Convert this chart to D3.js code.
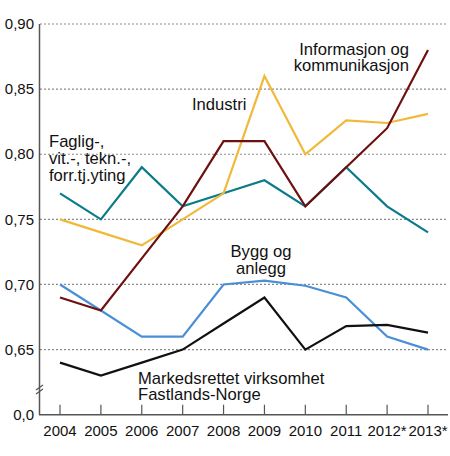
<!DOCTYPE html>
<html>
<head>
<meta charset="utf-8">
<script src="https://cdn.jsdelivr.net/npm/d3@7"></script>
<style>
  body { margin: 0; background: #fff; }
  text { font-family: "Liberation Sans", Arial, sans-serif; font-size: 15px; fill: #111; }
  text.serieslabel { font-size: 16.6px; }
</style>
</head>
<body>
<div id="chart"></div>
<script>
// Years on the x axis
const years = ["2004", "2005", "2006", "2007", "2008", "2009", "2010", "2011", "2012*", "2013*"];

// Series values
const markedsrettet = [0.64, 0.63, 0.64, 0.65, 0.67, 0.69, 0.65, 0.668, 0.669, 0.663];
const bygg = [0.70, 0.68, 0.66, 0.66, 0.70, 0.703, 0.699, 0.69, 0.66, 0.65];
const faglig = [0.77, 0.75, 0.79, 0.76, 0.77, 0.78, 0.76, 0.79, 0.76, 0.74];
const industri = [0.75, 0.74, 0.73, 0.75, 0.77, 0.86, 0.80, 0.826, 0.824, 0.831];
const informasjon = [0.69, 0.68, 0.72, 0.76, 0.81, 0.81, 0.76, 0.79, 0.82, 0.88];

// Y tick values and labels
const yTicks = [0.65, 0.70, 0.75, 0.80, 0.85, 0.90];
const yTickLabels = ["0,65", "0,70", "0,75", "0,80", "0,85", "0,90"];

const series = [
  { name: "faglig", values: faglig, color: "#0b7a8a" },
  { name: "industri", values: industri, color: "#f0b93a" },
  { name: "bygg", values: bygg, color: "#4a8fd6" },
  { name: "markedsrettet", values: markedsrettet, color: "#111111" },
  { name: "informasjon", values: informasjon, color: "#6e1010" }
];

const width = 450, height = 456;

const svg = d3.select("#chart")
  .append("svg")
    .attr("width", width)
    .attr("height", height);

// Scales - bottom of the axis is a broken 0,0
const x = d3.scalePoint()
  .domain(years)
  .range([60, 428]);

const y = d3.scaleLinear()
  .domain([0.60, 0.90])
  .range([414.7, 24]);

// Dotted gridlines
svg.selectAll(".grid")
  .data(yTicks)
  .join("line")
  .attr("x1", 40)
  .attr("x2", 448)
  .attr("y1", d => y(d))
  .attr("y2", d => y(d))
  .attr("stroke", "#8a8a8a")
  .attr("stroke-width", 1.2)
  .attr("stroke-dasharray", "2,2");

// Y tick labels
svg.selectAll(".ylab")
  .data(yTicks)
  .join("text")
  .attr("x", 34)
  .attr("y", d => y(d))
  .attr("dy", "0.35em")
  .attr("text-anchor", "end")
  .text((d, i) => yTickLabels[i]);

svg.append("text")
  .attr("x", 34)
  .attr("y", y(0.60))
  .attr("dy", "0.35em")
  .attr("text-anchor", "end")
  .text("0,0");

// Axes lines
svg.append("line")
  .attr("x1", 39.5).attr("x2", 39.5)
  .attr("y1", y(0.90)).attr("y2", y(0.60))
  .attr("stroke", "#555").attr("stroke-width", 1.5);

svg.append("line")
  .attr("x1", 39).attr("x2", 448)
  .attr("y1", y(0.60)).attr("y2", y(0.60))
  .attr("stroke", "#555").attr("stroke-width", 1.5);

// Axis break marks
[0, 4].forEach(off => {
  svg.append("line")
    .attr("x1", 36).attr("x2", 43)
    .attr("y1", 392 - off + 2).attr("y2", 387 - off + 2)
    .attr("stroke", "#555").attr("stroke-width", 1.2);
});

// X ticks
svg.selectAll(".xtick")
  .data(years)
  .join("line")
  .attr("x1", d => x(d))
  .attr("x2", d => x(d))
  .attr("y1", y(0.60))
  .attr("y2", y(0.60) - 10)
  .attr("stroke", "#555")
  .attr("stroke-width", 1.2);

svg.selectAll(".xlab")
  .data(years)
  .join("text")
  .attr("x", d => x(d))
  .attr("y", 436)
  .attr("text-anchor", "middle")
  .text(d => d);

// Lines
const line = d3.line()
  .x((d, i) => x(years[i]))
  .y(d => y(d));

svg.selectAll(".series")
  .data(series)
  .join("path")
  .attr("fill", "none")
  .attr("stroke", d => d.color)
  .attr("stroke-width", 2.2)
  .attr("stroke-linejoin", "miter")
  .attr("d", d => line(d.values));

// Series labels
function label(lines, xPos, yPos, anchor) {
  const t = svg.append("text")
    .attr("class", "serieslabel")
    .attr("text-anchor", anchor);
  lines.forEach((s, i) => {
    t.append("tspan")
      .attr("x", xPos)
      .attr("y", yPos + i * 16.8)
      .text(s);
  });
}

label(["Informasjon og", "kommunikasjon"], 409, 54.5, "end");
label(["Industri"], 192, 110, "start");
label(["Faglig-,", "vit.-, tekn.-,", "forr.tj.yting"], 49, 147, "start");
label(["Bygg og", "anlegg"], 261, 257, "middle");
label(["Markedsrettet virksomhet", "Fastlands-Norge"], 138, 383.5, "start");
</script>
</body>
</html>
